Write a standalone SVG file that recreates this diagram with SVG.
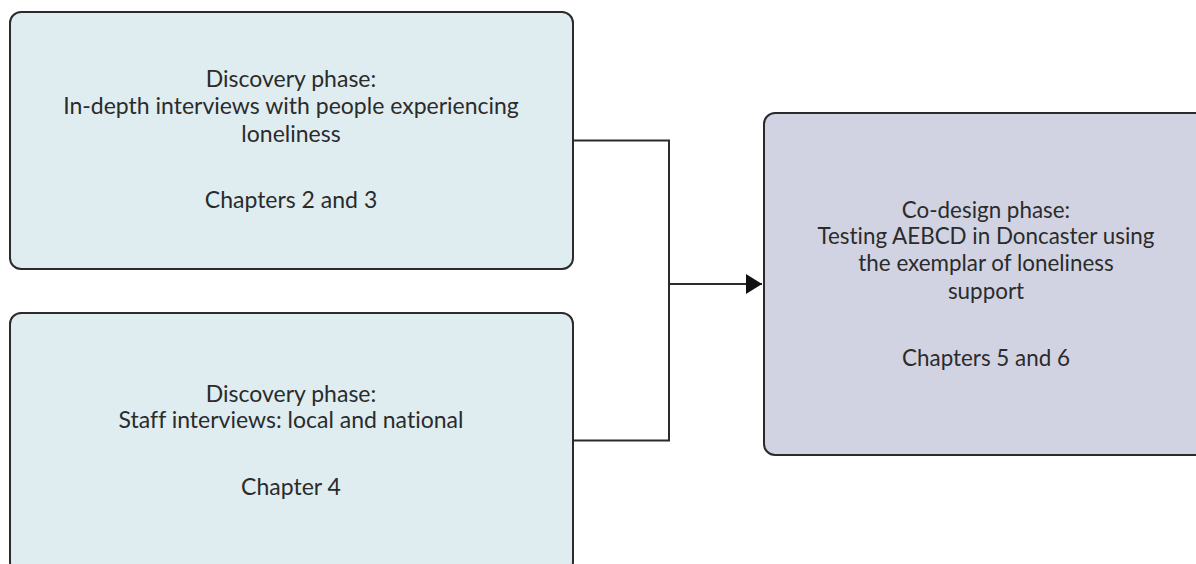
<svg xmlns="http://www.w3.org/2000/svg" width="1196" height="564" viewBox="0 0 1196 564">
<style>
.box{stroke:#2b2b2b;stroke-width:2}
.disc{fill:#dfedf1}
.co{fill:#d1d3e2}
.t{font-family:Lato,"Liberation Sans",sans-serif;font-size:23px;fill:#2b2b2b;text-anchor:middle;font-variant-ligatures:none}
.t3{font-size:22.4px}
.c{fill:none;stroke:#2b2b2b;stroke-width:2}
</style>
<defs>
<marker id="arr" markerWidth="16" markerHeight="20" refX="16" refY="10" orient="auto" markerUnits="userSpaceOnUse">
<path d="M0,0 L16,10 L0,20 Z" fill="#111"/>
</marker>
</defs>
<rect width="1196" height="564" fill="#fff"/>
<g id="connectors">
<path class="c" d="M573,140.5 H669 V440.5 H573"/>
<path class="c" d="M669,284 H762" marker-end="url(#arr)"/>
</g>
<g id="node1">
<rect class="box disc" x="10" y="12" width="563" height="257" rx="11"/>
<text class="t" x="291" y="87">Discovery phase:</text>
<text class="t" x="291" y="114">In-depth interviews with people experiencing</text>
<text class="t" x="291" y="142">loneliness</text>
<text class="t" x="291" y="208">Chapters 2 and 3</text>
</g>
<g id="node2">
<rect class="box disc" x="10" y="313" width="563" height="260" rx="11"/>
<text class="t" x="291" y="402">Discovery phase:</text>
<text class="t" x="291" y="428">Staff interviews: local and national</text>
<text class="t" x="291" y="495">Chapter 4</text>
</g>
<g id="node3">
<rect class="box co" x="764" y="113" width="450" height="342" rx="11"/>
<text class="t t3" x="986" y="218">Co-design phase:</text>
<text class="t t3" x="986" y="244">Testing AEBCD in Doncaster using</text>
<text class="t t3" x="986" y="271">the exemplar of loneliness</text>
<text class="t t3" x="986" y="299">support</text>
<text class="t t3" x="986" y="366">Chapters 5 and 6</text>
</g>
</svg>
